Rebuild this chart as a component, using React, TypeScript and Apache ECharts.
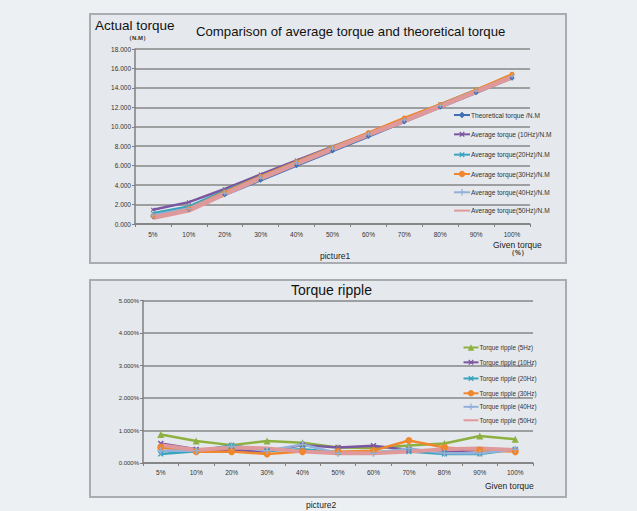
import React, { useEffect, useRef } from "react";
import * as echarts from "echarts";

const categories = ["5%", "10%", "20%", "30%", "40%", "50%", "60%", "70%", "80%", "90%", "100%"];

const topNames = [
  "Theoretical torque /N.M",
  "Average torque (10Hz)/N.M",
  "Average torque(20Hz)/N.M",
  "Average torque(30Hz)/N.M",
  "Average torque(40Hz)/N.M",
  "Average torque(50Hz)/N.M",
];
const theoretical = [0.75, 1.5, 3.0, 4.5, 6.0, 7.5, 9.0, 10.5, 12.0, 13.5, 15.0];
const avg10 = [1.47, 2.25, 3.6, 5.1, 6.55, 7.95, 9.35, 10.8, 12.25, 13.7, 15.2];
const avg20 = [1.1, 1.8, 3.4, 4.9, 6.4, 7.9, 9.3, 10.8, 12.3, 13.8, 15.3];
const avg30 = [0.85, 1.6, 3.3, 4.9, 6.4, 7.9, 9.4, 10.9, 12.3, 13.8, 15.4];
const avg40 = [0.9, 1.6, 3.2, 4.8, 6.3, 7.8, 9.25, 10.7, 12.2, 13.7, 15.2];
const avg50 = [0.65, 1.4, 3.1, 4.7, 6.2, 7.7, 9.2, 10.6, 12.1, 13.6, 15.1];

const bottomNames = [
  "Torque ripple (5Hz)",
  "Torque ripple (10Hz)",
  "Torque ripple (20Hz)",
  "Torque ripple (30Hz)",
  "Torque ripple (40Hz)",
  "Torque ripple (50Hz)",
];
const ripple5 = [0.88, 0.68, 0.55, 0.68, 0.62, 0.48, 0.46, 0.54, 0.6, 0.83, 0.73];
const ripple10 = [0.6, 0.42, 0.4, 0.35, 0.55, 0.48, 0.53, 0.4, 0.35, 0.4, 0.4];
const ripple20 = [0.28, 0.36, 0.55, 0.38, 0.42, 0.33, 0.35, 0.35, 0.28, 0.28, 0.42];
const ripple30 = [0.48, 0.35, 0.35, 0.28, 0.35, 0.35, 0.38, 0.69, 0.48, 0.4, 0.35];
const ripple40 = [0.38, 0.38, 0.5, 0.38, 0.57, 0.3, 0.3, 0.45, 0.3, 0.3, 0.42];
const ripple50 = [0.55, 0.4, 0.48, 0.45, 0.35, 0.3, 0.3, 0.35, 0.42, 0.45, 0.4];

const yTopTicks = { min: 0, max: 18, interval: 2 };
const yBottomTicks = { min: 0, max: 5, interval: 1 };

const colors = ["#3f6fb6", "#7a56a0", "#3aa3bd", "#f0862e", "#93b0d8", "#e0999a"];
const colorsBottom = ["#8db040", "#7a56a0", "#3aa3bd", "#f0862e", "#93b0d8", "#e0999a"];

const PLUS = "path://M4,0H6V4H10V6H6V10H4V6H0V4H4Z";
const FONT = "Liberation Sans, Arial, sans-serif";

export default function App() {
  const ref = useRef<HTMLDivElement>(null);
  useEffect(() => {
    if (!ref.current) return;
    const chart = echarts.init(ref.current, null, { renderer: "svg" });

    const topData = [theoretical, avg10, avg20, avg30, avg40, avg50];
    const topSymbols = ["diamond", PLUS, PLUS, "circle", PLUS, "none"];
    const topRot = [0, 45, 45, 0, 0, 0];
    const botData = [ripple5, ripple10, ripple20, ripple30, ripple40, ripple50];
    const botSymbols = ["triangle", PLUS, PLUS, "circle", PLUS, "none"];
    const botRot = [0, 45, 45, 0, 0, 0];

    const series: any[] = [];
    topData.forEach((d, i) => {
      series.push({
        name: topNames[i],
        type: "line",
        xAxisIndex: 0,
        yAxisIndex: 0,
        data: d,
        symbol: topSymbols[i],
        symbolRotate: topRot[i],
        symbolSize: 5,
        showSymbol: true,
        lineStyle: { color: colors[i], width: i === 5 ? 4.5 : 2.5 },
        itemStyle: { color: colors[i] },
      });
    });
    botData.forEach((d, i) => {
      series.push({
        name: bottomNames[i],
        type: "line",
        xAxisIndex: 1,
        yAxisIndex: 1,
        data: d,
        symbol: botSymbols[i],
        symbolRotate: botRot[i],
        symbolSize: 7,
        showSymbol: true,
        lineStyle: { color: colorsBottom[i], width: i === 5 ? 4 : 2.5 },
        itemStyle: { color: colorsBottom[i] },
      });
    });

    const axisCommonX = (gridIndex: number, margin: number) => ({
      type: "category",
      gridIndex,
      data: categories,
      boundaryGap: true,
      axisLine: { show: true, lineStyle: { color: "#7f7f7f", width: 1.5 } },
      axisTick: { show: true, interval: 0, length: 3, lineStyle: { color: "#7f7f7f" } },
      axisLabel: { interval: 0, fontSize: 6.5, color: "#333", fontFamily: FONT, margin },
      splitLine: { show: false },
    });

    const legendData = (names: string[]) =>
      names.map((n, i) => (i === 5 ? { name: n, itemStyle: { opacity: 0 } } : { name: n }));

    const option: any = {
      animation: false,
      backgroundColor: "#edf0f3",
      grid: [
        { left: 135, right: 107, top: 49, bottom: 287 },
        { left: 143, right: 104, top: 300.5, bottom: 48 },
      ],
      xAxis: [axisCommonX(0, 7), axisCommonX(1, 6)],
      yAxis: [
        {
          type: "value",
          gridIndex: 0,
          ...yTopTicks,
          axisLine: { show: true, lineStyle: { color: "#7f7f7f", width: 1.5 } },
          axisTick: { show: true, length: 3, lineStyle: { color: "#7f7f7f" } },
          axisLabel: { fontSize: 6.5, color: "#333", fontFamily: FONT, margin: 4, formatter: (v: number) => v.toFixed(3) },
          splitLine: { show: true, lineStyle: { color: "#868686", width: 1.5 } },
        },
        {
          type: "value",
          gridIndex: 1,
          ...yBottomTicks,
          axisLine: { show: true, lineStyle: { color: "#7f7f7f", width: 1.5 } },
          axisTick: { show: true, length: 3, lineStyle: { color: "#7f7f7f" } },
          axisLabel: { fontSize: 6, color: "#333", fontFamily: FONT, margin: 4, formatter: (v: number) => v.toFixed(3) + "%" },
          splitLine: { show: true, lineStyle: { color: "#868686", width: 1.5 } },
        },
      ],
      legend: [
        {
          data: legendData(topNames),
          orient: "vertical",
          left: 453,
          top: 111.5,
          padding: 0,
          itemWidth: 16,
          itemHeight: 8,
          itemGap: 11.3,
          textStyle: { fontSize: 6.6, color: "#333", fontFamily: FONT, padding: [0, 0, 0, -4] },
        },
        {
          data: legendData(bottomNames),
          orient: "vertical",
          left: 462.5,
          top: 344.3,
          padding: 0,
          itemWidth: 15,
          itemHeight: 8,
          itemGap: 7.1,
          textStyle: { fontSize: 6.3, color: "#333", fontFamily: FONT, padding: [0, 0, 0, -4] },
        },
      ],
      graphic: [
        { type: "rect", z: -10, shape: { x: 90, y: 14, width: 476, height: 249 }, style: { fill: "#e5e9ed", stroke: "#a9adb1", lineWidth: 2 } },
        { type: "rect", z: -10, shape: { x: 90, y: 280, width: 476, height: 217 }, style: { fill: "#e5e9ed", stroke: "#a9adb1", lineWidth: 2 } },
        { type: "text", left: 95, top: 18, style: { text: "Actual torque", fontSize: 13.5, fill: "#111", fontFamily: FONT } },
        { type: "text", left: 126, top: 35, style: { text: "（N.M）", fontSize: 6, fontWeight: "bold", fill: "#333", fontFamily: FONT } },
        { type: "text", left: 196, top: 25, style: { text: "Comparison of average torque and theoretical torque", fontSize: 13.2, fill: "#111", fontFamily: FONT } },
        { type: "text", left: 493, top: 240, style: { text: "Given torque", fontSize: 8.5, fill: "#222", fontFamily: FONT } },
        { type: "text", left: 508, top: 249, style: { text: "（%）", fontSize: 6.5, fontWeight: "bold", fill: "#333", fontFamily: FONT } },
        { type: "text", left: 320, top: 251, style: { text: "picture1", fontSize: 8.5, fill: "#222", fontFamily: FONT } },
        { type: "text", left: 291, top: 283, style: { text: "Torque ripple", fontSize: 14, fill: "#111", fontFamily: FONT } },
        { type: "text", left: 485, top: 481, style: { text: "Given torque", fontSize: 8.5, fill: "#222", fontFamily: FONT } },
        { type: "text", left: 306, top: 500, style: { text: "picture2", fontSize: 8.5, fill: "#222", fontFamily: FONT } },
      ],
      series,
    };
    chart.setOption(option);
    return () => chart.dispose();
  }, []);
  return <div ref={ref} style={{ position: "fixed", left: 0, top: 0, width: 637, height: 511 }} />;
}
